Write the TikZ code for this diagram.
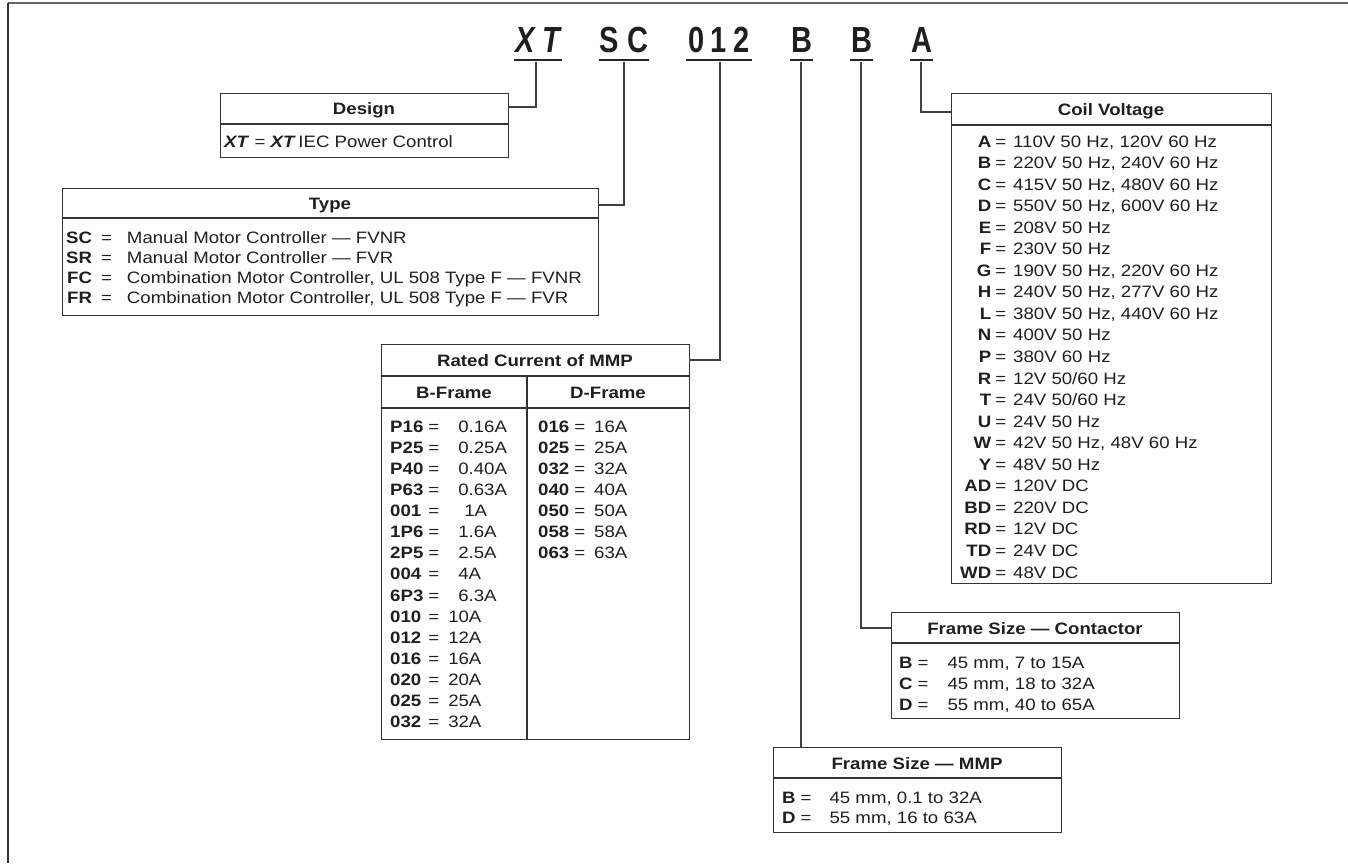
\documentclass[tikz,border=0pt]{standalone}
\usepackage{fontspec}
\setmainfont[FakeStretch=1.13]{Liberation Sans}
\newfontfamily\codefont[FakeStretch=0.8]{Liberation Sans}
\usetikzlibrary{calc}
\newcommand{\bsz}[1]{\fontsize{16.5}{#1}\selectfont}
\begin{document}
\begin{tikzpicture}[x=1pt,y=-1pt,
  box/.style={draw=black!80, line width=1.4pt},
  boxnode/.style={box, anchor=north west, inner sep=0pt},
  conn/.style={draw=black!75, line width=1.3pt},
  code/.style={font=\codefont\bfseries\fontsize{36.3}{40}\selectfont, inner sep=0pt, anchor=base, text=black!88},
  uline/.style={line width=2.7pt, draw=black!85},
  ttl/.style={font=\bfseries\bsz{21}, inner sep=0pt, anchor=base, text=black!88},
  body/.style={inner sep=0pt, anchor=base west, align=left, text=black!88},
]
\useasboundingbox (0,0) rectangle (1348,863);
% outer frame (top and left edges)
\draw[line width=2pt, black!60] (1348,2.5) -- (7.5,2.5);
\draw[line width=2pt, black!80] (7.5,2.5) -- (7.5,863);

% catalogue code
\node[code] (cXT) at (538,52) {\itshape X\hspace{7pt}T};
\node[code] (cSC) at (624,52) {S\hspace{8pt}C};
\node[code] (c012) at (719,52) {0\hspace{6pt}1\hspace{6pt}2};
\node[code] (cB1) at (801.5,52) {B};
\node[code] (cB2) at (861.5,52) {B};
\node[code] (cA) at (921.5,52) {A};
\draw[uline] (514,60) -- (562,60);
\draw[uline] (599,60) -- (649,60);
\draw[uline] (686,60) -- (752,60);
\draw[uline] (790,60) -- (813,60);
\draw[uline] (850,60) -- (873,60);
\draw[uline] (910,60) -- (933,60);
\coordinate (sXT) at (536,61.5);
\coordinate (sSC) at (624,61.5);
\coordinate (s012) at (720,61.5);
\coordinate (sB1) at (801,61.5);
\coordinate (sB2) at (861,61.5);
\coordinate (sA) at (921,61.5);

% Design
\node[boxnode, minimum width=288pt, minimum height=64pt] (design) at (220,93) {};
\draw[box] (220,124) -- (508,124);
\node[ttl] (designT) at (364,114.4) {Design};
\node[body, font=\bsz{21}] (designB) at (224,147) {\textbf{\textit{XT}} = \textbf{\textit{XT}}\,IEC Power Control};
\coordinate (designIn) at (508,107);

% Type
\node[boxnode, minimum width=536pt, minimum height=127pt] (type) at (62,188) {};
\draw[box] (62,218) -- (598,218);
\node[ttl] (typeT) at (330,209) {Type};
\node[body, font=\bsz{20.3}] (typeB) at (66,243) {\begin{tabular}[t]{@{}r@{\hspace{9pt}=\hspace{15pt}}l@{}}
\textbf{SC} & Manual Motor Controller — FVNR\\
\textbf{SR} & Manual Motor Controller — FVR\\
\textbf{FC} & Combination Motor Controller, UL 508 Type F — FVNR\\
\textbf{FR} & Combination Motor Controller, UL 508 Type F — FVR
\end{tabular}};
\coordinate (typeIn) at (598,205);

% Rated current of MMP
\node[boxnode, minimum width=308pt, minimum height=395pt] (rated) at (381,344) {};
\draw[box] (381,376) -- (689,376);
\draw[box] (381,408) -- (689,408);
\draw[box] (527,376) -- (527,739);
\node[ttl] (ratedT) at (535,366) {Rated Current of MMP};
\node[ttl] (bframeT) at (454,398) {B-Frame};
\node[ttl] (dframeT) at (608,398) {D-Frame};
\node[body, font=\bsz{21.14}] (bframeB) at (390,432) {\begin{tabular}[t]{@{}l@{\hspace{5pt}=\hspace{9pt}}l@{}}
\textbf{P16} & \hspace{10pt}0.16A\\
\textbf{P25} & \hspace{10pt}0.25A\\
\textbf{P40} & \hspace{10pt}0.40A\\
\textbf{P63} & \hspace{10pt}0.63A\\
\textbf{001} & \hspace{16pt}1A\\
\textbf{1P6} & \hspace{10pt}1.6A\\
\textbf{2P5} & \hspace{10pt}2.5A\\
\textbf{004} & \hspace{10pt}4A\\
\textbf{6P3} & \hspace{10pt}6.3A\\
\textbf{010} & 10A\\
\textbf{012} & 12A\\
\textbf{016} & 16A\\
\textbf{020} & 20A\\
\textbf{025} & 25A\\
\textbf{032} & 32A
\end{tabular}};
\node[body, font=\bsz{21.14}] (dframeB) at (538,432) {\begin{tabular}[t]{@{}l@{\hspace{5pt}=\hspace{9pt}}l@{}}
\textbf{016} & 16A\\
\textbf{025} & 25A\\
\textbf{032} & 32A\\
\textbf{040} & 40A\\
\textbf{050} & 50A\\
\textbf{058} & 58A\\
\textbf{063} & 63A
\end{tabular}};
\coordinate (ratedIn) at (689,360);

% Coil voltage
\node[boxnode, minimum width=320pt, minimum height=490pt] (coil) at (951,93) {};
\draw[box] (951,125) -- (1271,125);
\node[ttl] (coilT) at (1111,115) {Coil Voltage};
\node[body, font=\bsz{21.55}] (coilB) at (960,147) {\begin{tabular}[t]{@{}r@{\hspace{4pt}=\hspace{7pt}}l@{}}
\textbf{A} & 110V 50 Hz, 120V 60 Hz\\
\textbf{B} & 220V 50 Hz, 240V 60 Hz\\
\textbf{C} & 415V 50 Hz, 480V 60 Hz\\
\textbf{D} & 550V 50 Hz, 600V 60 Hz\\
\textbf{E} & 208V 50 Hz\\
\textbf{F} & 230V 50 Hz\\
\textbf{G} & 190V 50 Hz, 220V 60 Hz\\
\textbf{H} & 240V 50 Hz, 277V 60 Hz\\
\textbf{L} & 380V 50 Hz, 440V 60 Hz\\
\textbf{N} & 400V 50 Hz\\
\textbf{P} & 380V 60 Hz\\
\textbf{R} & 12V 50/60 Hz\\
\textbf{T} & 24V 50/60 Hz\\
\textbf{U} & 24V 50 Hz\\
\textbf{W} & 42V 50 Hz, 48V 60 Hz\\
\textbf{Y} & 48V 50 Hz\\
\textbf{AD} & 120V DC\\
\textbf{BD} & 220V DC\\
\textbf{RD} & 12V DC\\
\textbf{TD} & 24V DC\\
\textbf{WD} & 48V DC
\end{tabular}};
\coordinate (coilIn) at (951,112);

% Frame size - contactor
\node[boxnode, minimum width=288pt, minimum height=106pt] (contactor) at (891,612) {};
\draw[box] (891,643) -- (1179,643);
\node[ttl] (contT) at (1035,634) {Frame Size — Contactor};
\node[body, font=\bsz{21}] (contB) at (899,668) {\begin{tabular}[t]{@{}l@{\hspace{5pt}=\hspace{19pt}}l@{}}
\textbf{B} & 45 mm, 7 to 15A\\
\textbf{C} & 45 mm, 18 to 32A\\
\textbf{D} & 55 mm, 40 to 65A
\end{tabular}};
\coordinate (contIn) at (891,628);

% Frame size - MMP
\node[boxnode, minimum width=288pt, minimum height=85pt] (mmp) at (773,747) {};
\draw[box] (773,778) -- (1061,778);
\node[ttl] (mmpT) at (917,769) {Frame Size — MMP};
\node[body, font=\bsz{20}] (mmpB) at (782,803) {\begin{tabular}[t]{@{}l@{\hspace{5pt}=\hspace{18pt}}l@{}}
\textbf{B} & 45 mm, 0.1 to 32A\\
\textbf{D} & 55 mm, 16 to 63A
\end{tabular}};

% connectors
\draw[conn] (sXT) |- (designIn);
\draw[conn] (sSC) |- (typeIn);
\draw[conn] (s012) |- (ratedIn);
\draw[conn] (sB1) -- (sB1 |- mmp.north);
\draw[conn] (sB2) |- (contIn);
\draw[conn] (sA) |- (coilIn);
\end{tikzpicture}
\end{document}
